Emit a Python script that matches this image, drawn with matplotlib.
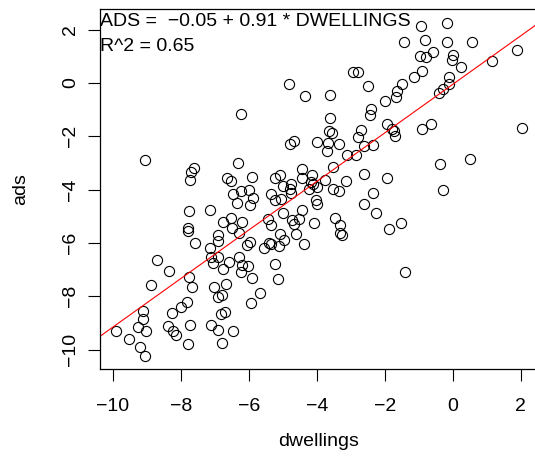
import matplotlib
matplotlib.use('Agg')
import matplotlib.pyplot as plt
import numpy as np

plt.rcParams['font.family'] = ['Liberation Sans', 'DejaVu Sans']

# values
dwellings = [
    -0.95, -0.18, -1.44, -0.82, -0.17, 0.56, 1.90, -0.59, -0.96, -0.80,
    0.00, -0.02, 0.23, 1.16, -0.90, -1.14, -0.11, -2.95, -2.80, -4.81,
    -2.50, -1.50, -0.11, -1.65, -1.68, -0.40, -0.30, -4.34, -3.61, -2.00,
    -2.41, -2.45, -6.24, -3.60, -1.93, -1.78, -1.74, -1.70, -0.65, -0.92,
    2.03, -2.71, -2.78, -3.64, -3.55, -4.79, -4.66, -3.99, -3.67, -3.36,
    -3.69, -2.62, -2.35, -3.10, -2.85, -9.06, -6.33, 0.52, -0.37, -4.44,
    -3.54, -7.63, -7.70, -7.73, -6.66, -6.53, -5.91, -5.23, -5.09, -4.43,
    -4.13, -2.62, -1.93, -3.76, -3.15, -5.01, -4.75, -4.79, -4.76, -4.17,
    -4.10, -4.24, -4.00, -3.54, -3.36, -0.29, -6.23, -6.01, -6.46, -5.88,
    -5.98, -6.35, -5.35, -5.22, -5.07, -4.02, -4.01, -2.34, -2.60, -7.15,
    -7.77, -4.44, -4.99, -2.27, -6.54, -6.75, -6.20, -6.50, -5.45, -5.34,
    -4.72, -4.68, -4.53, -4.09, -3.48, -3.33, -3.33, -3.25, -1.53, -1.87,
    -7.80, -7.80, -6.30, -6.91, -6.91, -7.59, -5.09, -4.62, -4.37, -5.96,
    -6.05, -5.40, -5.34, -4.97, -5.55, -5.11, -7.15, -7.13, -6.91, -7.06,
    -6.28, -6.60, -8.70, -6.75, -6.19, -6.02, -6.23, -5.23, -5.14, -5.91,
    -1.40, -8.36, -7.77, -7.67, -8.89, -7.04, -6.67, -5.66, -6.92, -6.79,
    -5.93, -7.81, -8.00, -8.26, -9.12, -9.12, -6.81, -6.69, -9.27, -8.37,
    -8.23, -8.15, -7.74, -7.11, -6.90, -6.46, -9.92, -9.04, -9.54, -9.20,
    -9.06, -7.80, -6.79,
]
ads = [
    2.12, 2.26, 1.52, 1.61, 1.55, 1.52, 1.25, 1.15, 1.01, 0.96,
    1.06, 0.87, 0.59, 0.81, 0.44, 0.24, 0.21, 0.40, 0.40, -0.04,
    -0.13, -0.03, -0.04, -0.31, -0.53, -0.38, -0.23, -0.48, -0.45, -0.68,
    -0.98, -1.20, -1.16, -1.31, -1.53, -1.71, -1.81, -1.99, -1.55, -1.73,
    -1.69, -1.76, -2.03, -1.80, -1.88, -2.28, -2.16, -2.20, -2.25, -2.28,
    -2.55, -2.38, -2.34, -2.70, -2.71, -2.90, -2.99, -2.85, -3.04, -3.23,
    -3.16, -3.19, -3.35, -3.64, -3.55, -3.68, -3.54, -3.56, -3.45, -3.56,
    -3.46, -3.43, -3.56, -3.65, -3.68, -3.86, -3.80, -3.98, -4.11, -3.73,
    -3.79, -3.96, -3.91, -3.99, -4.06, -4.01, -4.04, -4.03, -4.18, -4.33,
    -4.56, -4.51, -4.16, -4.39, -4.36, -4.39, -4.54, -4.13, -4.53, -4.75,
    -4.79, -4.76, -4.86, -4.88, -5.06, -5.23, -5.21, -5.44, -5.09, -5.31,
    -5.14, -5.29, -5.11, -5.24, -5.05, -5.31, -5.63, -5.69, -5.26, -5.49,
    -5.45, -5.55, -5.64, -5.69, -5.94, -6.01, -5.66, -5.68, -6.05, -5.95,
    -6.09, -6.00, -6.04, -5.90, -6.19, -6.13, -6.19, -6.51, -6.53, -6.74,
    -6.51, -6.71, -6.64, -6.96, -6.84, -6.88, -7.09, -6.78, -7.34, -7.30,
    -7.08, -7.04, -7.28, -7.65, -7.56, -7.66, -7.53, -7.88, -8.03, -7.94,
    -8.24, -8.21, -8.39, -8.61, -8.56, -8.85, -8.65, -8.60, -9.15, -9.11,
    -9.31, -9.44, -9.06, -9.08, -9.26, -9.31, -9.31, -9.30, -9.61, -9.91,
    -10.24, -9.78, -9.74,
]
intercept = -0.05
slope = 0.91
eq_lines = ['ADS =  \u22120.05 + 0.91 * DWELLINGS', 'R^2 = 0.65']
xticks = [-10, -8, -6, -4, -2, 0, 2]
yticks = [-10, -8, -6, -4, -2, 0, 2]

W, H = 535, 463
fig = plt.figure(figsize=(W / 100, H / 100), dpi=100)
ax = fig.add_axes([99.5 / W, 93.6 / H, 438.5 / W, 360 / H])

x = np.array(dwellings)
y = np.array(ads)
# R style 4% padding of the data range
xr = x.max() - x.min()
yr = y.max() - y.min()
ax.set_xlim(x.min() - 0.04 * xr, x.max() + 0.04 * xr)
ax.set_ylim(y.min() - 0.04 * yr, y.max() + 0.04 * yr)

ax.plot(x, y, 'o', ms=7.3, mfc='none', mec='black', mew=0.8)
ax.axline((0, intercept), slope=slope, color='red', lw=0.8)

fs = 14
ax.set_xticks(xticks)
ax.set_yticks(yticks)
ax.tick_params(length=8.4, width=0.8, labelsize=fs, direction='out')
ax.tick_params(axis='x', pad=12)
ax.tick_params(axis='y', pad=6)
for lab in ax.get_yticklabels():
    lab.set_rotation(90)
    lab.set_va('center')
for s in ax.spines.values():
    s.set_linewidth(0.9)

ax.set_xlabel('dwellings', fontsize=fs, va='center')
ax.xaxis.set_label_coords(0.5, -(441 - 369.4) / 360)
ax.set_ylabel('ads', fontsize=fs, va='center')
ax.yaxis.set_label_coords((20.5 - 99.5) / 438.5, 0.5)

for i, line in enumerate(eq_lines):
    fig.text(99.5 / W, (H - 26 - 25 * i) / H, line, fontsize=fs,
             ha='left', va='baseline')

fig.savefig('out.png', dpi=100)
